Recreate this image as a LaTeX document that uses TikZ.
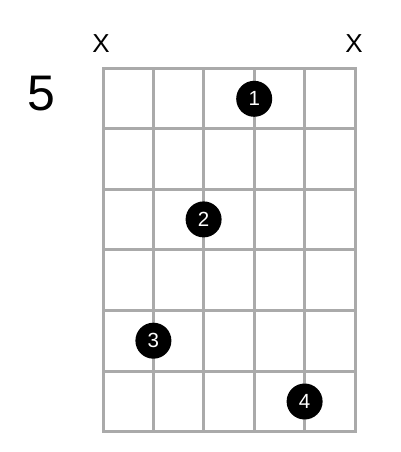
\documentclass[tikz,border=0pt]{standalone}
\usepackage{fontspec}
\setmainfont{Liberation Sans}
\definecolor{gridgray}{HTML}{AAAAAA}
\begin{document}
\begin{tikzpicture}[x=1pt,y=-1pt,
  gridline/.style={draw=gridgray,line width=3pt,line cap=rect},
  finger/.style={circle,fill=black,minimum size=36pt,inner sep=0pt,text=white,font=\fontsize{20.5}{20.5}\selectfont},
  mute/.style={font=\fontsize{26}{26}\selectfont,inner sep=0pt},
  fretnum/.style={font=\fontsize{50}{50}\selectfont,inner sep=0pt}]
\useasboundingbox (0,0) rectangle (400,452);
% grid
\foreach \i in {0,...,5} {
  \draw[gridline] ({103+50.4*\i},68) -- ({103+50.4*\i},431.6);
}
\foreach \j in {0,...,6} {
  \draw[gridline] (103,{68+60.6*\j}) -- (355,{68+60.6*\j});
}
\node[mute] (xl) at (101,44) {X};
\node[mute] (xr) at (354,44) {X};
\node[fretnum] (fret) at (41.5,94) {5};
\node[finger] (f1) at (254.2,98.8) {1};
\node[finger] (f2) at (203.6,219.4) {2};
\node[finger] (f3) at (153.4,340.7) {3};
\node[finger] (f4) at (304.6,401.5) {4};
\end{tikzpicture}
\end{document}
